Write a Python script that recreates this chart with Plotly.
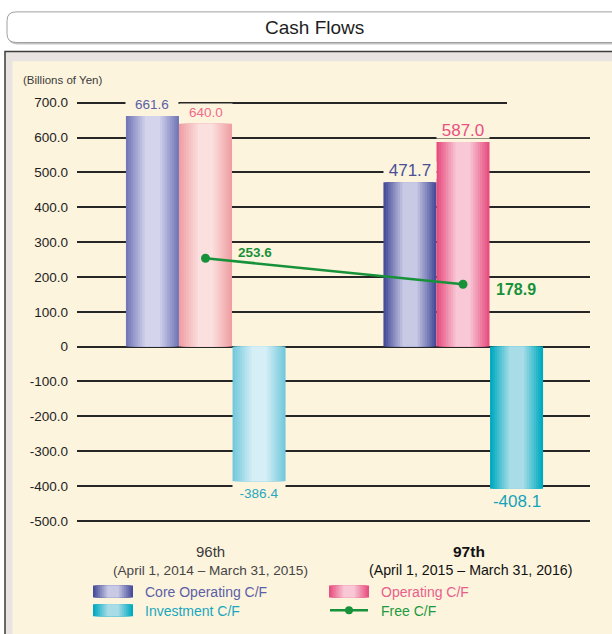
import plotly.graph_objects as go

# ---- data ----
periods = ["96th", "97th"]
period_ranges = ["(April 1, 2014 – March 31, 2015)", "(April 1, 2015 – March 31, 2016)"]
series_names = ["Core Operating C/F", "Operating C/F", "Investment C/F", "Free C/F"]
core_operating = [661.6, 471.7]
operating = [640.0, 587.0]
investment = [-386.4, -408.1]
free_cf = [253.6, 178.9]
y_ticks = [700, 600, 500, 400, 300, 200, 100, 0, -100, -200, -300, -400, -500]

W, H = 612, 634
CREAM = "#fdf4de"
FONT = "Liberation Sans"


def px(x):
    return x / W


def py(y):
    return 1 - y / H


def hex2rgb(h):
    h = h.lstrip("#")
    return tuple(int(h[i:i + 2], 16) for i in (0, 2, 4))


def mix(c1, c2, t):
    a, b = hex2rgb(c1), hex2rgb(c2)
    return "rgb(%d,%d,%d)" % tuple(round(a[i] + (b[i] - a[i]) * t) for i in range(3))


# (edge, centre) colours per period: older year faded
styles = [
    {"edge": ["#7378b8", "#474d99"], "centre": ["#d4d5ed", "#c8c9e5"],
     "label": ["#5a5fa6", "#4a4f98"], "shift": -0.206},
    {"edge": ["#f0a0a4", "#e84f80"], "centre": ["#fce0df", "#f8c8d6"],
     "label": ["#ef6a8c", "#e8507f"], "shift": 0.0},
    {"edge": ["#74c9dd", "#00aac0"], "centre": ["#d6eff6", "#a8dde8"],
     "label": ["#25a9c0", "#15a3bb"], "shift": 0.208},
]
values = [core_operating, operating, investment]
BAR_W = 0.206
LAYERS = 9

fig = go.Figure()
x_pos = list(range(len(periods)))

for vals, st in zip(values, styles):
    for k in range(LAYERS):
        t = k / (LAYERS - 1)
        w = BAR_W * (1 - 0.8 * k / LAYERS)
        fig.add_trace(go.Bar(
            x=x_pos, y=vals, width=w, offset=st["shift"] - w / 2,
            marker=dict(color=[mix(st["edge"][i], st["centre"][i], t) for i in range(2)],
                        line=dict(width=0)),
            showlegend=False, hoverinfo="skip"))

GREEN = "#17923a"
fig.add_trace(go.Scatter(
    x=x_pos, y=free_cf, mode="lines+markers",
    line=dict(color=GREEN, width=2.5),
    marker=dict(color=GREEN, size=9),
    showlegend=False, hoverinfo="skip"))

# ---- value labels ----
label_sizes = [13.5, 17]
for vals, st in zip(values, styles):
    for i, v in enumerate(vals):
        fig.add_annotation(
            x=x_pos[i] + st["shift"], y=v, xref="x", yref="y",
            text="%.1f" % v, showarrow=False, width=52, height=16,
            xanchor="center", yanchor="middle",
            yshift=12 if v > 0 else -12,
            font=dict(family=FONT, size=label_sizes[i], color=st["label"][i]),
            bgcolor=CREAM, borderpad=0)

free_shift = [(30, 6), (31, -5)]
for i, v in enumerate(free_cf):
    fig.add_annotation(
        x=x_pos[i], y=v, xref="x", yref="y", text="<b>%.1f</b>" % v,
        showarrow=False, xanchor="left", yanchor="middle",
        xshift=free_shift[i][0], yshift=free_shift[i][1],
        font=dict(family=FONT, size=[13.5, 16][i], color=GREEN))

# ---- category labels ----
cat_text = [periods[0], "<b>%s</b>" % periods[1]]
cat_style = [dict(size=15, color="#3a3a3a"), dict(size=15.5, color="#111111")]
rng_style = [dict(size=13.6, color="#454545"), dict(size=14.2, color="#111111")]
for i in x_pos:
    fig.add_annotation(x=x_pos[i] + 0.018 + 0.005 * i, y=py(554), xref="x", yref="paper",
                       text=cat_text[i], showarrow=False,
                       xanchor="center", yanchor="middle",
                       font=dict(family=FONT, **cat_style[i]))
    fig.add_annotation(x=x_pos[i] + 0.018 + 0.012 * i, y=py(573.5), xref="x", yref="paper",
                       text=period_ranges[i], showarrow=False,
                       xanchor="center", yanchor="middle",
                       font=dict(family=FONT, **rng_style[i]))

fig.add_annotation(x=px(21), y=py(77), xref="paper", yref="paper",
                   xanchor="left", yanchor="middle",
                   text="(Billions of Yen)", showarrow=False,
                   font=dict(family=FONT, size=11.5, color="#3a3a3a"))

fig.add_annotation(x=px(314), y=py(24), xref="paper", yref="paper",
                   xanchor="center", yanchor="middle",
                   text="Cash Flows", showarrow=False,
                   font=dict(family=FONT, size=19, color="#1e1e1e"))

# ---- shapes: frame and title box ----
shapes = []
shapes.append(dict(type="rect", xref="paper", yref="paper", layer="below",
                   x0=px(5), x1=px(640), y0=py(48), y1=py(660),
                   fillcolor="#e9e4e1", line=dict(color="#3c3c3c", width=1.5)))
shapes.append(dict(type="rect", xref="paper", yref="paper", layer="below",
                   x0=px(12.5), x1=px(640), y0=py(58), y1=py(660),
                   fillcolor=CREAM, line=dict(width=0)))


def rounded(x0, y0, x1, y1, r):
    return ("M {a},{b} L {c},{b} L {c},{d} L {a},{d} "
            "Q {e},{d} {e},{f} L {e},{g} Q {e},{b} {a},{b} Z").format(
        a=px(x0 + r), b=py(y0), c=px(x1), d=py(y1), e=px(x0),
        f=py(y1 - r), g=py(y0 + r))


shapes.append(dict(type="path", xref="paper", yref="paper", layer="below",
                   path=rounded(8, 10, 640, 41, 9), fillcolor="#c4c4c4",
                   line=dict(width=0)))
shapes.append(dict(type="path", xref="paper", yref="paper", layer="below",
                   path=rounded(7, 8, 640, 39, 9), fillcolor="white",
                   line=dict(color="#a0a0a0", width=1)))

# hide the right part of the top gridline
shapes.append(dict(type="rect", xref="x", yref="y", layer="between",
                   x0=(507 - 205.5) / 257.5, x1=1.6, y0=690, y1=710,
                   fillcolor=CREAM, line=dict(width=0)))

# ---- custom legend ----
legend_items = [
    (93, 595, "#474d99", "#c8c9e5", series_names[0], "#5a5fa6"),
    (329, 595, "#e84f80", "#f8c8d6", series_names[1], "#e8608a"),
    (93, 614, "#00aac0", "#a8dde8", series_names[2], "#19a7bd"),
]
SW = 40
for x0, yc, edge, centre, name, tc in legend_items:
    for k in range(LAYERS):
        t = k / (LAYERS - 1)
        w = SW * (1 - 0.8 * k / LAYERS)
        cx = x0 + SW / 2
        shapes.append(dict(type="rect", xref="paper", yref="paper",
                           x0=px(cx - w / 2), x1=px(cx + w / 2),
                           y0=py(yc - 6), y1=py(yc + 6),
                           fillcolor=mix(edge, centre, t), line=dict(width=0)))
    fig.add_annotation(x=px(x0 + 50), y=py(yc + 1), xref="paper", yref="paper",
                       xanchor="left", yanchor="middle", text=name, showarrow=False,
                       font=dict(family=FONT, size=14, color=tc))

shapes.append(dict(type="line", xref="paper", yref="paper",
                   x0=px(330), x1=px(368), y0=py(614), y1=py(614),
                   line=dict(color=GREEN, width=2.5)))
shapes.append(dict(type="circle", xref="paper", yref="paper",
                   x0=px(345), x1=px(353), y0=py(610), y1=py(618),
                   fillcolor=GREEN, line=dict(width=0)))
fig.add_annotation(x=px(379), y=py(615), xref="paper", yref="paper",
                   xanchor="left", yanchor="middle", text=series_names[3], showarrow=False,
                   font=dict(family=FONT, size=14, color="#1c9a40"))

# ---- layout ----
y_top, y_bot = 710, -510
scale = 247 / 700.0


def ypix(v):
    return 347 - v * scale


fig.update_layout(
    width=W, height=H,
    margin=dict(l=0, r=0, t=0, b=0),
    paper_bgcolor="white", plot_bgcolor="rgba(0,0,0,0)",
    barmode="overlay", showlegend=False,
    shapes=shapes,
    xaxis=dict(domain=[px(77), px(590)],
               range=[(77 - 205.5) / 257.5, (590 - 205.5) / 257.5],
               showgrid=False, zeroline=False, showticklabels=False,
               fixedrange=True),
    yaxis=dict(domain=[py(ypix(y_bot)), py(ypix(y_top))],
               range=[y_bot, y_top],
               tickvals=y_ticks,
               ticktext=["0" if v == 0 else "%.1f" % v for v in y_ticks],
               showgrid=True, gridcolor="#262626", gridwidth=1.8,
               zeroline=False, ticks="", ticklabelstandoff=8,
               tickfont=dict(family=FONT, size=13.5, color="#1e1e1e"),
               fixedrange=True),
)

fig.write_html("out.html", config={"displayModeBar": False},
               post_script="document.body.style.margin='0';")
